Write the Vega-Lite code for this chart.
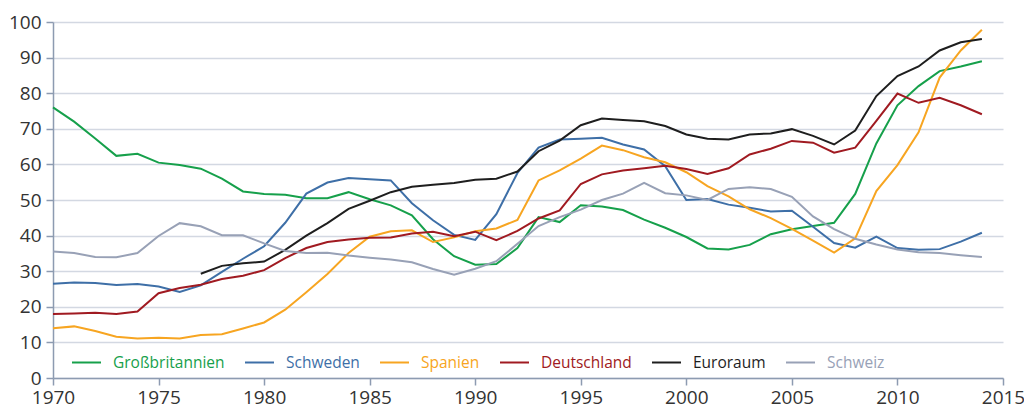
{
  "$schema": "https://vega.github.io/schema/vega-lite/v6.json",
  "autosize": {"type": "none"},
  "padding": {"left": 53, "top": 22, "right": 21, "bottom": 30},
  "width": 950,
  "height": 356,
  "background": "white",
  "config": {
    "font": "Open Sans",
    "view": {"stroke": null},
    "axis": {
      "labelFont": "Open Sans",
      "labelFontSize": 19,
      "labelColor": "#333333",
      "domainColor": "#8d9bb1",
      "domainWidth": 1.5,
      "tickColor": "#8d9bb1",
      "tickWidth": 1.5,
      "gridColor": "#d3d8e2",
      "gridWidth": 1.5,
      "title": null
    }
  },
  "data": {
    "values": [
      {"Jahr": 1970, "Land": "Großbritannien", "Wert": 76.0},
      {"Jahr": 1971, "Land": "Großbritannien", "Wert": 72.0},
      {"Jahr": 1972, "Land": "Großbritannien", "Wert": 67.3},
      {"Jahr": 1973, "Land": "Großbritannien", "Wert": 62.4},
      {"Jahr": 1974, "Land": "Großbritannien", "Wert": 63.0},
      {"Jahr": 1975, "Land": "Großbritannien", "Wert": 60.5},
      {"Jahr": 1976, "Land": "Großbritannien", "Wert": 59.8},
      {"Jahr": 1977, "Land": "Großbritannien", "Wert": 58.8},
      {"Jahr": 1978, "Land": "Großbritannien", "Wert": 56.0},
      {"Jahr": 1979, "Land": "Großbritannien", "Wert": 52.4},
      {"Jahr": 1980, "Land": "Großbritannien", "Wert": 51.7},
      {"Jahr": 1981, "Land": "Großbritannien", "Wert": 51.5},
      {"Jahr": 1982, "Land": "Großbritannien", "Wert": 50.5},
      {"Jahr": 1983, "Land": "Großbritannien", "Wert": 50.5},
      {"Jahr": 1984, "Land": "Großbritannien", "Wert": 52.2},
      {"Jahr": 1985, "Land": "Großbritannien", "Wert": 50.2},
      {"Jahr": 1986, "Land": "Großbritannien", "Wert": 48.5},
      {"Jahr": 1987, "Land": "Großbritannien", "Wert": 45.7},
      {"Jahr": 1988, "Land": "Großbritannien", "Wert": 39.0},
      {"Jahr": 1989, "Land": "Großbritannien", "Wert": 34.2},
      {"Jahr": 1990, "Land": "Großbritannien", "Wert": 31.8},
      {"Jahr": 1991, "Land": "Großbritannien", "Wert": 32.0},
      {"Jahr": 1992, "Land": "Großbritannien", "Wert": 36.5},
      {"Jahr": 1993, "Land": "Großbritannien", "Wert": 45.2},
      {"Jahr": 1994, "Land": "Großbritannien", "Wert": 43.8},
      {"Jahr": 1995, "Land": "Großbritannien", "Wert": 48.5},
      {"Jahr": 1996, "Land": "Großbritannien", "Wert": 48.2},
      {"Jahr": 1997, "Land": "Großbritannien", "Wert": 47.2},
      {"Jahr": 1998, "Land": "Großbritannien", "Wert": 44.5},
      {"Jahr": 1999, "Land": "Großbritannien", "Wert": 42.2},
      {"Jahr": 2000, "Land": "Großbritannien", "Wert": 39.6},
      {"Jahr": 2001, "Land": "Großbritannien", "Wert": 36.4},
      {"Jahr": 2002, "Land": "Großbritannien", "Wert": 36.1},
      {"Jahr": 2003, "Land": "Großbritannien", "Wert": 37.4},
      {"Jahr": 2004, "Land": "Großbritannien", "Wert": 40.4},
      {"Jahr": 2005, "Land": "Großbritannien", "Wert": 41.8},
      {"Jahr": 2006, "Land": "Großbritannien", "Wert": 42.7},
      {"Jahr": 2007, "Land": "Großbritannien", "Wert": 43.6},
      {"Jahr": 2008, "Land": "Großbritannien", "Wert": 51.7},
      {"Jahr": 2009, "Land": "Großbritannien", "Wert": 65.9},
      {"Jahr": 2010, "Land": "Großbritannien", "Wert": 76.6},
      {"Jahr": 2011, "Land": "Großbritannien", "Wert": 82.0},
      {"Jahr": 2012, "Land": "Großbritannien", "Wert": 86.2},
      {"Jahr": 2013, "Land": "Großbritannien", "Wert": 87.5},
      {"Jahr": 2014, "Land": "Großbritannien", "Wert": 89.0},

      {"Jahr": 1970, "Land": "Schweden", "Wert": 26.5},
      {"Jahr": 1971, "Land": "Schweden", "Wert": 26.8},
      {"Jahr": 1972, "Land": "Schweden", "Wert": 26.7},
      {"Jahr": 1973, "Land": "Schweden", "Wert": 26.1},
      {"Jahr": 1974, "Land": "Schweden", "Wert": 26.4},
      {"Jahr": 1975, "Land": "Schweden", "Wert": 25.7},
      {"Jahr": 1976, "Land": "Schweden", "Wert": 24.2},
      {"Jahr": 1977, "Land": "Schweden", "Wert": 26.0},
      {"Jahr": 1978, "Land": "Schweden", "Wert": 29.8},
      {"Jahr": 1979, "Land": "Schweden", "Wert": 33.5},
      {"Jahr": 1980, "Land": "Schweden", "Wert": 37.0},
      {"Jahr": 1981, "Land": "Schweden", "Wert": 43.6},
      {"Jahr": 1982, "Land": "Schweden", "Wert": 51.8},
      {"Jahr": 1983, "Land": "Schweden", "Wert": 54.9},
      {"Jahr": 1984, "Land": "Schweden", "Wert": 56.2},
      {"Jahr": 1985, "Land": "Schweden", "Wert": 55.8},
      {"Jahr": 1986, "Land": "Schweden", "Wert": 55.5},
      {"Jahr": 1987, "Land": "Schweden", "Wert": 49.1},
      {"Jahr": 1988, "Land": "Schweden", "Wert": 44.3},
      {"Jahr": 1989, "Land": "Schweden", "Wert": 40.2},
      {"Jahr": 1990, "Land": "Schweden", "Wert": 38.8},
      {"Jahr": 1991, "Land": "Schweden", "Wert": 46.0},
      {"Jahr": 1992, "Land": "Schweden", "Wert": 57.6},
      {"Jahr": 1993, "Land": "Schweden", "Wert": 64.7},
      {"Jahr": 1994, "Land": "Schweden", "Wert": 67.0},
      {"Jahr": 1995, "Land": "Schweden", "Wert": 67.2},
      {"Jahr": 1996, "Land": "Schweden", "Wert": 67.5},
      {"Jahr": 1997, "Land": "Schweden", "Wert": 65.6},
      {"Jahr": 1998, "Land": "Schweden", "Wert": 64.2},
      {"Jahr": 1999, "Land": "Schweden", "Wert": 59.5},
      {"Jahr": 2000, "Land": "Schweden", "Wert": 50.0},
      {"Jahr": 2001, "Land": "Schweden", "Wert": 50.3},
      {"Jahr": 2002, "Land": "Schweden", "Wert": 48.7},
      {"Jahr": 2003, "Land": "Schweden", "Wert": 47.8},
      {"Jahr": 2004, "Land": "Schweden", "Wert": 46.8},
      {"Jahr": 2005, "Land": "Schweden", "Wert": 47.0},
      {"Jahr": 2006, "Land": "Schweden", "Wert": 42.5},
      {"Jahr": 2007, "Land": "Schweden", "Wert": 37.9},
      {"Jahr": 2008, "Land": "Schweden", "Wert": 36.6},
      {"Jahr": 2009, "Land": "Schweden", "Wert": 39.7},
      {"Jahr": 2010, "Land": "Schweden", "Wert": 36.5},
      {"Jahr": 2011, "Land": "Schweden", "Wert": 36.0},
      {"Jahr": 2012, "Land": "Schweden", "Wert": 36.2},
      {"Jahr": 2013, "Land": "Schweden", "Wert": 38.3},
      {"Jahr": 2014, "Land": "Schweden", "Wert": 40.8},

      {"Jahr": 1970, "Land": "Spanien", "Wert": 14.0},
      {"Jahr": 1971, "Land": "Spanien", "Wert": 14.5},
      {"Jahr": 1972, "Land": "Spanien", "Wert": 13.2},
      {"Jahr": 1973, "Land": "Spanien", "Wert": 11.6},
      {"Jahr": 1974, "Land": "Spanien", "Wert": 11.1},
      {"Jahr": 1975, "Land": "Spanien", "Wert": 11.3},
      {"Jahr": 1976, "Land": "Spanien", "Wert": 11.1},
      {"Jahr": 1977, "Land": "Spanien", "Wert": 12.1},
      {"Jahr": 1978, "Land": "Spanien", "Wert": 12.3},
      {"Jahr": 1979, "Land": "Spanien", "Wert": 13.9},
      {"Jahr": 1980, "Land": "Spanien", "Wert": 15.6},
      {"Jahr": 1981, "Land": "Spanien", "Wert": 19.2},
      {"Jahr": 1982, "Land": "Spanien", "Wert": 24.1},
      {"Jahr": 1983, "Land": "Spanien", "Wert": 29.2},
      {"Jahr": 1984, "Land": "Spanien", "Wert": 35.1},
      {"Jahr": 1985, "Land": "Spanien", "Wert": 39.7},
      {"Jahr": 1986, "Land": "Spanien", "Wert": 41.2},
      {"Jahr": 1987, "Land": "Spanien", "Wert": 41.5},
      {"Jahr": 1988, "Land": "Spanien", "Wert": 38.2},
      {"Jahr": 1989, "Land": "Spanien", "Wert": 39.5},
      {"Jahr": 1990, "Land": "Spanien", "Wert": 41.2},
      {"Jahr": 1991, "Land": "Spanien", "Wert": 42.0},
      {"Jahr": 1992, "Land": "Spanien", "Wert": 44.4},
      {"Jahr": 1993, "Land": "Spanien", "Wert": 55.5},
      {"Jahr": 1994, "Land": "Spanien", "Wert": 58.3},
      {"Jahr": 1995, "Land": "Spanien", "Wert": 61.6},
      {"Jahr": 1996, "Land": "Spanien", "Wert": 65.3},
      {"Jahr": 1997, "Land": "Spanien", "Wert": 64.0},
      {"Jahr": 1998, "Land": "Spanien", "Wert": 62.0},
      {"Jahr": 1999, "Land": "Spanien", "Wert": 60.6},
      {"Jahr": 2000, "Land": "Spanien", "Wert": 57.8},
      {"Jahr": 2001, "Land": "Spanien", "Wert": 53.9},
      {"Jahr": 2002, "Land": "Spanien", "Wert": 51.0},
      {"Jahr": 2003, "Land": "Spanien", "Wert": 47.4},
      {"Jahr": 2004, "Land": "Spanien", "Wert": 44.9},
      {"Jahr": 2005, "Land": "Spanien", "Wert": 41.9},
      {"Jahr": 2006, "Land": "Spanien", "Wert": 38.6},
      {"Jahr": 2007, "Land": "Spanien", "Wert": 35.2},
      {"Jahr": 2008, "Land": "Spanien", "Wert": 39.2},
      {"Jahr": 2009, "Land": "Spanien", "Wert": 52.5},
      {"Jahr": 2010, "Land": "Spanien", "Wert": 59.8},
      {"Jahr": 2011, "Land": "Spanien", "Wert": 69.0},
      {"Jahr": 2012, "Land": "Spanien", "Wert": 84.4},
      {"Jahr": 2013, "Land": "Spanien", "Wert": 92.0},
      {"Jahr": 2014, "Land": "Spanien", "Wert": 97.8},

      {"Jahr": 1970, "Land": "Deutschland", "Wert": 18.0},
      {"Jahr": 1971, "Land": "Deutschland", "Wert": 18.1},
      {"Jahr": 1972, "Land": "Deutschland", "Wert": 18.3},
      {"Jahr": 1973, "Land": "Deutschland", "Wert": 18.0},
      {"Jahr": 1974, "Land": "Deutschland", "Wert": 18.7},
      {"Jahr": 1975, "Land": "Deutschland", "Wert": 23.8},
      {"Jahr": 1976, "Land": "Deutschland", "Wert": 25.3},
      {"Jahr": 1977, "Land": "Deutschland", "Wert": 26.2},
      {"Jahr": 1978, "Land": "Deutschland", "Wert": 27.8},
      {"Jahr": 1979, "Land": "Deutschland", "Wert": 28.7},
      {"Jahr": 1980, "Land": "Deutschland", "Wert": 30.3},
      {"Jahr": 1981, "Land": "Deutschland", "Wert": 33.7},
      {"Jahr": 1982, "Land": "Deutschland", "Wert": 36.5},
      {"Jahr": 1983, "Land": "Deutschland", "Wert": 38.2},
      {"Jahr": 1984, "Land": "Deutschland", "Wert": 38.9},
      {"Jahr": 1985, "Land": "Deutschland", "Wert": 39.4},
      {"Jahr": 1986, "Land": "Deutschland", "Wert": 39.5},
      {"Jahr": 1987, "Land": "Deutschland", "Wert": 40.6},
      {"Jahr": 1988, "Land": "Deutschland", "Wert": 41.1},
      {"Jahr": 1989, "Land": "Deutschland", "Wert": 39.8},
      {"Jahr": 1990, "Land": "Deutschland", "Wert": 41.1},
      {"Jahr": 1991, "Land": "Deutschland", "Wert": 38.7},
      {"Jahr": 1992, "Land": "Deutschland", "Wert": 41.3},
      {"Jahr": 1993, "Land": "Deutschland", "Wert": 44.8},
      {"Jahr": 1994, "Land": "Deutschland", "Wert": 47.1},
      {"Jahr": 1995, "Land": "Deutschland", "Wert": 54.5},
      {"Jahr": 1996, "Land": "Deutschland", "Wert": 57.2},
      {"Jahr": 1997, "Land": "Deutschland", "Wert": 58.3},
      {"Jahr": 1998, "Land": "Deutschland", "Wert": 58.9},
      {"Jahr": 1999, "Land": "Deutschland", "Wert": 59.6},
      {"Jahr": 2000, "Land": "Deutschland", "Wert": 58.7},
      {"Jahr": 2001, "Land": "Deutschland", "Wert": 57.3},
      {"Jahr": 2002, "Land": "Deutschland", "Wert": 58.9},
      {"Jahr": 2003, "Land": "Deutschland", "Wert": 62.8},
      {"Jahr": 2004, "Land": "Deutschland", "Wert": 64.4},
      {"Jahr": 2005, "Land": "Deutschland", "Wert": 66.6},
      {"Jahr": 2006, "Land": "Deutschland", "Wert": 66.1},
      {"Jahr": 2007, "Land": "Deutschland", "Wert": 63.3},
      {"Jahr": 2008, "Land": "Deutschland", "Wert": 64.7},
      {"Jahr": 2009, "Land": "Deutschland", "Wert": 72.2},
      {"Jahr": 2010, "Land": "Deutschland", "Wert": 79.9},
      {"Jahr": 2011, "Land": "Deutschland", "Wert": 77.3},
      {"Jahr": 2012, "Land": "Deutschland", "Wert": 78.7},
      {"Jahr": 2013, "Land": "Deutschland", "Wert": 76.6},
      {"Jahr": 2014, "Land": "Deutschland", "Wert": 74.1},

      {"Jahr": 1977, "Land": "Euroraum", "Wert": 29.3},
      {"Jahr": 1978, "Land": "Euroraum", "Wert": 31.5},
      {"Jahr": 1979, "Land": "Euroraum", "Wert": 32.2},
      {"Jahr": 1980, "Land": "Euroraum", "Wert": 32.7},
      {"Jahr": 1981, "Land": "Euroraum", "Wert": 36.0},
      {"Jahr": 1982, "Land": "Euroraum", "Wert": 40.0},
      {"Jahr": 1983, "Land": "Euroraum", "Wert": 43.5},
      {"Jahr": 1984, "Land": "Euroraum", "Wert": 47.5},
      {"Jahr": 1985, "Land": "Euroraum", "Wert": 49.8},
      {"Jahr": 1986, "Land": "Euroraum", "Wert": 52.2},
      {"Jahr": 1987, "Land": "Euroraum", "Wert": 53.7},
      {"Jahr": 1988, "Land": "Euroraum", "Wert": 54.3},
      {"Jahr": 1989, "Land": "Euroraum", "Wert": 54.8},
      {"Jahr": 1990, "Land": "Euroraum", "Wert": 55.7},
      {"Jahr": 1991, "Land": "Euroraum", "Wert": 56.0},
      {"Jahr": 1992, "Land": "Euroraum", "Wert": 58.0},
      {"Jahr": 1993, "Land": "Euroraum", "Wert": 63.7},
      {"Jahr": 1994, "Land": "Euroraum", "Wert": 66.7},
      {"Jahr": 1995, "Land": "Euroraum", "Wert": 71.0},
      {"Jahr": 1996, "Land": "Euroraum", "Wert": 72.9},
      {"Jahr": 1997, "Land": "Euroraum", "Wert": 72.5},
      {"Jahr": 1998, "Land": "Euroraum", "Wert": 72.1},
      {"Jahr": 1999, "Land": "Euroraum", "Wert": 70.8},
      {"Jahr": 2000, "Land": "Euroraum", "Wert": 68.4},
      {"Jahr": 2001, "Land": "Euroraum", "Wert": 67.2},
      {"Jahr": 2002, "Land": "Euroraum", "Wert": 67.0},
      {"Jahr": 2003, "Land": "Euroraum", "Wert": 68.4},
      {"Jahr": 2004, "Land": "Euroraum", "Wert": 68.7},
      {"Jahr": 2005, "Land": "Euroraum", "Wert": 69.9},
      {"Jahr": 2006, "Land": "Euroraum", "Wert": 68.0},
      {"Jahr": 2007, "Land": "Euroraum", "Wert": 65.6},
      {"Jahr": 2008, "Land": "Euroraum", "Wert": 69.5},
      {"Jahr": 2009, "Land": "Euroraum", "Wert": 79.2},
      {"Jahr": 2010, "Land": "Euroraum", "Wert": 84.8},
      {"Jahr": 2011, "Land": "Euroraum", "Wert": 87.5},
      {"Jahr": 2012, "Land": "Euroraum", "Wert": 92.0},
      {"Jahr": 2013, "Land": "Euroraum", "Wert": 94.3},
      {"Jahr": 2014, "Land": "Euroraum", "Wert": 95.2},

      {"Jahr": 1970, "Land": "Schweiz", "Wert": 35.5},
      {"Jahr": 1971, "Land": "Schweiz", "Wert": 35.1},
      {"Jahr": 1972, "Land": "Schweiz", "Wert": 34.0},
      {"Jahr": 1973, "Land": "Schweiz", "Wert": 33.9},
      {"Jahr": 1974, "Land": "Schweiz", "Wert": 35.1},
      {"Jahr": 1975, "Land": "Schweiz", "Wert": 39.9},
      {"Jahr": 1976, "Land": "Schweiz", "Wert": 43.5},
      {"Jahr": 1977, "Land": "Schweiz", "Wert": 42.6},
      {"Jahr": 1978, "Land": "Schweiz", "Wert": 40.1},
      {"Jahr": 1979, "Land": "Schweiz", "Wert": 40.1},
      {"Jahr": 1980, "Land": "Schweiz", "Wert": 37.8},
      {"Jahr": 1981, "Land": "Schweiz", "Wert": 35.7},
      {"Jahr": 1982, "Land": "Schweiz", "Wert": 35.1},
      {"Jahr": 1983, "Land": "Schweiz", "Wert": 35.2},
      {"Jahr": 1984, "Land": "Schweiz", "Wert": 34.4},
      {"Jahr": 1985, "Land": "Schweiz", "Wert": 33.8},
      {"Jahr": 1986, "Land": "Schweiz", "Wert": 33.3},
      {"Jahr": 1987, "Land": "Schweiz", "Wert": 32.5},
      {"Jahr": 1988, "Land": "Schweiz", "Wert": 30.6},
      {"Jahr": 1989, "Land": "Schweiz", "Wert": 29.0},
      {"Jahr": 1990, "Land": "Schweiz", "Wert": 30.7},
      {"Jahr": 1991, "Land": "Schweiz", "Wert": 32.8},
      {"Jahr": 1992, "Land": "Schweiz", "Wert": 37.7},
      {"Jahr": 1993, "Land": "Schweiz", "Wert": 42.7},
      {"Jahr": 1994, "Land": "Schweiz", "Wert": 45.2},
      {"Jahr": 1995, "Land": "Schweiz", "Wert": 47.3},
      {"Jahr": 1996, "Land": "Schweiz", "Wert": 50.0},
      {"Jahr": 1997, "Land": "Schweiz", "Wert": 51.8},
      {"Jahr": 1998, "Land": "Schweiz", "Wert": 54.8},
      {"Jahr": 1999, "Land": "Schweiz", "Wert": 51.9},
      {"Jahr": 2000, "Land": "Schweiz", "Wert": 51.3},
      {"Jahr": 2001, "Land": "Schweiz", "Wert": 50.0},
      {"Jahr": 2002, "Land": "Schweiz", "Wert": 53.1},
      {"Jahr": 2003, "Land": "Schweiz", "Wert": 53.6},
      {"Jahr": 2004, "Land": "Schweiz", "Wert": 53.1},
      {"Jahr": 2005, "Land": "Schweiz", "Wert": 50.9},
      {"Jahr": 2006, "Land": "Schweiz", "Wert": 45.4},
      {"Jahr": 2007, "Land": "Schweiz", "Wert": 41.8},
      {"Jahr": 2008, "Land": "Schweiz", "Wert": 39.1},
      {"Jahr": 2009, "Land": "Schweiz", "Wert": 37.5},
      {"Jahr": 2010, "Land": "Schweiz", "Wert": 36.1},
      {"Jahr": 2011, "Land": "Schweiz", "Wert": 35.3},
      {"Jahr": 2012, "Land": "Schweiz", "Wert": 35.1},
      {"Jahr": 2013, "Land": "Schweiz", "Wert": 34.5},
      {"Jahr": 2014, "Land": "Schweiz", "Wert": 34.0}
    ]
  },
  "mark": {"type": "line", "strokeWidth": 2, "interpolate": "linear"},
  "encoding": {
    "x": {
      "field": "Jahr",
      "type": "quantitative",
      "scale": {"domain": [1970, 2015], "nice": false, "zero": false},
      "axis": {
        "values": [1970, 1975, 1980, 1985, 1990, 1995, 2000, 2005, 2010, 2015],
        "format": "d",
        "grid": false,
        "tickSize": 7,
        "labelPadding": 3,
        "labelFlush": false,
        "labelOverlap": false
      }
    },
    "y": {
      "field": "Wert",
      "type": "quantitative",
      "scale": {"domain": [0, 100], "nice": false},
      "axis": {
        "values": [0, 10, 20, 30, 40, 50, 60, 70, 80, 90, 100],
        "grid": true,
        "tickSize": 7,
        "labelPadding": 5,
        "labelFlush": false,
        "labelOverlap": false
      }
    },
    "color": {
      "field": "Land",
      "type": "nominal",
      "scale": {
        "domain": ["Großbritannien", "Schweden", "Spanien", "Deutschland", "Euroraum", "Schweiz"],
        "range": ["#16a04b", "#3e6fa7", "#f7a521", "#a01a21", "#1e1e1e", "#98a1b6"]
      },
      "legend": {
        "title": null,
        "orient": "none",
        "legendX": 18,
        "legendY": 325,
        "direction": "horizontal",
        "symbolType": "stroke",
        "symbolSize": 841,
        "symbolStrokeWidth": 2,
        "labelFont": "Open Sans",
        "labelFontSize": 15.5,
        "labelOffset": 11,
        "columnPadding": 16,
        "encode": {
          "labels": {"update": {"fill": {"scale": "color", "field": "value"}}}
        }
      }
    }
  }
}
